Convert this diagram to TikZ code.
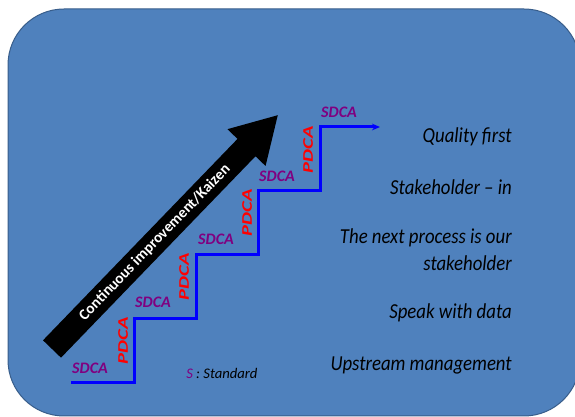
\documentclass[tikz,border=0pt]{standalone}
\usepackage{fontspec}
\setmainfont{Carlito}
\newfontfamily\mottofont[FakeStretch=0.88,Ligatures=TeX]{Carlito}
\newfontfamily\pdcafont[FakeStretch=1.4]{Carlito}
\usetikzlibrary{positioning}
\usetikzlibrary{arrows.meta}
\definecolor{panelblue}{HTML}{4F81BD}
\definecolor{paneledge}{HTML}{385D8A}
\definecolor{sdcapurple}{HTML}{800080}

\begin{document}
\begin{tikzpicture}[x=0.75pt,y=0.75pt,
 sdca/.style={text=sdcapurple,inner sep=0pt,font=\fontsize{12}{14}\selectfont\bfseries\itshape},
 pdca/.style={text=red,rotate=90,inner sep=0pt,font=\pdcafont\fontsize{11}{13}\selectfont\bfseries\itshape},
 motto/.style={anchor=east,align=right,inner sep=0pt,font=\mottofont\fontsize{16}{20}\selectfont\itshape},
 stair/.style={draw=blue,line width=2.25pt,-{Stealth[length=6pt,width=5pt]}}]
 \useasboundingbox (0,0) rectangle (575,417);
 \draw[fill=panelblue,draw=paneledge,line width=0.75pt,rounded corners=42pt](8,1) rectangle (580,408);
 \draw[stair](71,34)--(134,34)--(134,98)--(196,98)--(196,162)--(258,162)--(258,226)--(320,226)--(320,290)--(380,290);
 \begin{scope}[shift={(52,68)},rotate=46]
  \fill[black](0,-12.5)--(280,-12.5)--(280,-26.5)--(325,0)--(280,26.5)--(280,12.5)--(0,12.5)--cycle;
  \node[rotate=46,text=white,inner sep=0pt,font=\fontsize{11.5}{13}\selectfont\bfseries](kaizen) at (148,0) {Continuous improvement/Kaizen};
 \end{scope}
 \node[sdca](sdca1) at (90,49) {SDCA};
 \node[sdca](sdca2) at (153,115) {SDCA};
 \node[sdca](sdca3) at (216,178) {SDCA};
 \node[sdca](sdca4) at (277,241) {SDCA};
 \node[sdca](sdca5) at (339,305) {SDCA};
 \node[pdca](pdca1) at (123,76) {PDCA};
 \node[pdca](pdca2) at (184,140) {PDCA};
 \node[pdca](pdca3) at (247,204) {PDCA};
 \node[pdca](pdca4) at (308,267) {PDCA};
 \node[anchor=west,inner sep=0pt,font=\fontsize{11}{13}\selectfont\itshape](legend) at (186,44) {\textcolor{sdcapurple}{S} : Standard};
 \node[motto](quality) at (512,280) {Quality first};
 \node[motto](stake) at (512,230) {Stakeholder – in};
 \node[motto](next) at (512,167) {The next process is our\\stakeholder};
 \node[motto](data) at (512,104) {Speak with data};
 \node[motto](upstream) at (512,52) {Upstream management};
\end{tikzpicture}
\end{document}
